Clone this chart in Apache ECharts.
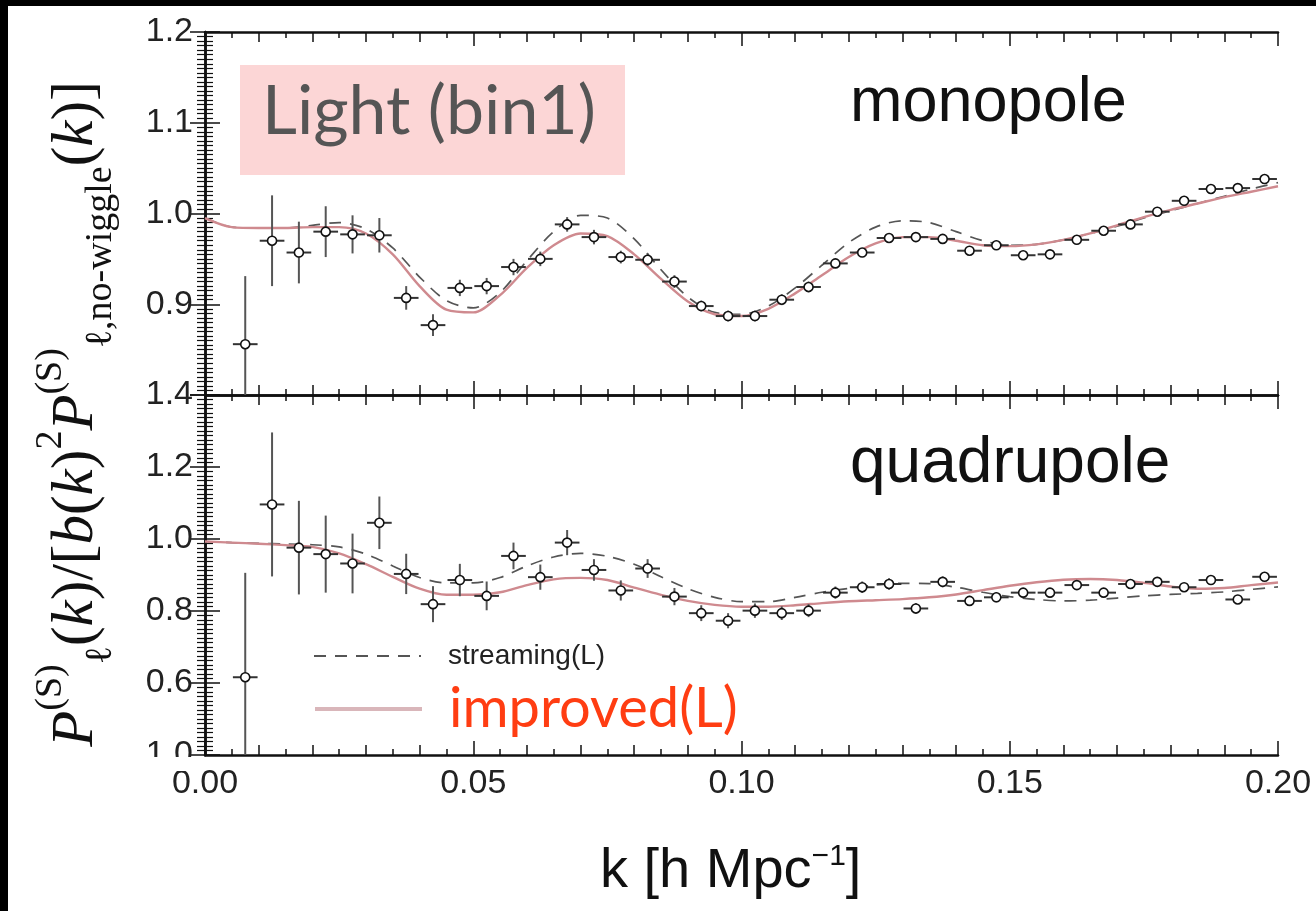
<!DOCTYPE html>
<html>
<head>
<meta charset="utf-8">
<title>Light (bin1)</title>
<script src="https://cdn.jsdelivr.net/npm/echarts@6/dist/echarts.min.js"></script>
<style>
html, body { margin: 0; padding: 0; background: #000; }
#chart { width: 1316px; height: 911px; }
</style>
</head>
<body>
<div id="chart"></div>
<script>
'use strict';

// measured points (k bin centres)
var kPoints = [0.0075, 0.0125, 0.0175, 0.0225, 0.0275, 0.0325, 0.0375, 0.0425, 0.0475, 0.0525,
    0.0575, 0.0625, 0.0675, 0.0725, 0.0775, 0.0825, 0.0875, 0.0925, 0.0975, 0.1025,
    0.1075, 0.1125, 0.1175, 0.1225, 0.1275, 0.1325, 0.1375, 0.1425, 0.1475, 0.1525,
    0.1575, 0.1625, 0.1675, 0.1725, 0.1775, 0.1825, 0.1875, 0.1925, 0.1975];
var monoValues = [0.856, 0.970, 0.957, 0.980, 0.977, 0.976, 0.907, 0.877, 0.918, 0.920,
    0.941, 0.950, 0.988, 0.974, 0.952, 0.949, 0.925, 0.898, 0.887, 0.887,
    0.905, 0.919, 0.945, 0.957, 0.973, 0.974, 0.972, 0.959, 0.965, 0.954,
    0.955, 0.971, 0.981, 0.988, 1.002, 1.014, 1.027, 1.028, 1.038];
var monoErrors = [0.075, 0.050, 0.034, 0.028, 0.021, 0.019, 0.013, 0.012, 0.009, 0.009,
    0.009, 0.008, 0.008, 0.008, 0.007, 0.007, 0.007, 0.006, 0.006, 0.006,
    0.006, 0.006, 0.005, 0.005, 0.005, 0.005, 0.005, 0.005, 0.005, 0.005,
    0.004, 0.004, 0.004, 0.004, 0.004, 0.004, 0.004, 0.004, 0.004];
var quadValues = [0.616, 1.096, 0.976, 0.958, 0.932, 1.045, 0.903, 0.819, 0.886, 0.842,
    0.953, 0.894, 0.990, 0.914, 0.857, 0.918, 0.840, 0.794, 0.773, 0.801,
    0.794, 0.801, 0.851, 0.866, 0.875, 0.807, 0.881, 0.828, 0.838, 0.851,
    0.851, 0.872, 0.851, 0.875, 0.881, 0.866, 0.886, 0.832, 0.895];
var quadErrors = [0.290, 0.200, 0.130, 0.107, 0.083, 0.073, 0.056, 0.050, 0.045, 0.040,
    0.037, 0.035, 0.035, 0.030, 0.028, 0.026, 0.024, 0.022, 0.021, 0.020,
    0.019, 0.018, 0.017, 0.016, 0.016, 0.015, 0.015, 0.014, 0.014, 0.013,
    0.013, 0.013, 0.012, 0.012, 0.012, 0.011, 0.011, 0.011, 0.011];
var binHalfWidth = 0.0023;

// model curves
var kCurve = [0, 0.005, 0.01, 0.015, 0.02, 0.025, 0.03, 0.035, 0.04, 0.045,
    0.05, 0.055, 0.06, 0.065, 0.07, 0.075, 0.08, 0.085, 0.09, 0.095,
    0.1, 0.105, 0.11, 0.115, 0.12, 0.125, 0.13, 0.135, 0.14, 0.145,
    0.15, 0.155, 0.16, 0.165, 0.17, 0.175, 0.18, 0.185, 0.19, 0.195, 0.2];
var monoImproved = [0.995, 0.985, 0.984, 0.984, 0.985, 0.985, 0.978, 0.955, 0.920, 0.894,
    0.891, 0.910, 0.940, 0.965, 0.978, 0.975, 0.955, 0.928, 0.903, 0.889,
    0.887, 0.895, 0.912, 0.932, 0.952, 0.967, 0.974, 0.974, 0.970, 0.965,
    0.964, 0.966, 0.971, 0.978, 0.987, 0.996, 1.004, 1.011, 1.018, 1.024, 1.030];
var monoStreaming = [0.995, 0.985, 0.984, 0.984, 0.987, 0.990, 0.983, 0.962, 0.930, 0.904,
    0.896, 0.913, 0.948, 0.980, 0.998, 0.995, 0.972, 0.938, 0.908, 0.891,
    0.889, 0.898, 0.918, 0.943, 0.968, 0.985, 0.992, 0.990, 0.980, 0.970,
    0.965, 0.966, 0.971, 0.978, 0.986, 0.995, 1.003, 1.011, 1.019, 1.027, 1.034];
var quadImproved = [0.993, 0.990, 0.987, 0.983, 0.978, 0.960, 0.930, 0.895, 0.862, 0.845,
    0.845, 0.852, 0.872, 0.888, 0.892, 0.886, 0.865, 0.845, 0.828, 0.817,
    0.812, 0.812, 0.816, 0.822, 0.827, 0.830, 0.833, 0.838, 0.846, 0.858,
    0.870, 0.880, 0.887, 0.889, 0.886, 0.878, 0.868, 0.862, 0.864, 0.872, 0.879];
var quadStreaming = [0.993, 0.990, 0.988, 0.986, 0.984, 0.978, 0.958, 0.925, 0.893, 0.878,
    0.878, 0.893, 0.925, 0.950, 0.960, 0.952, 0.930, 0.895, 0.862, 0.838,
    0.826, 0.826, 0.838, 0.852, 0.863, 0.872, 0.877, 0.876, 0.866, 0.852,
    0.840, 0.832, 0.828, 0.830, 0.836, 0.842, 0.846, 0.849, 0.853, 0.860, 0.867];

// tick labels
var xTickLabels = ['0.00', '0.05', '0.10', '0.15', '0.20'];
var monoTickLabels = ['', '0.9', '1.0', '1.1', '1.2'];          // 0.8 .. 1.2
var quadTickLabels = ['1.0', '0.6', '0.8', '1.0', '1.2', '1.4']; // 0.4 .. 1.4 (as printed)

var chart = echarts.init(document.getElementById('chart'));

function zip(xs, ys) {
    return xs.map(function (x, i) { return [x, ys[i]]; });
}
function zip3(xs, ys, es) {
    return xs.map(function (x, i) { return [x, ys[i], es[i]]; });
}

var GRID_LEFT = 205, GRID_W = 1073;
var frameColor = '#111';

function xAxis(grid, pos, interval, len, showLabel, showMinor) {
    return {
        type: 'value', gridIndex: grid, position: pos, min: 0, max: 0.2, interval: interval,
        axisLine: {show: showMinor, lineStyle: {color: frameColor, width: 2.5}},
        axisTick: {show: true, inside: true, length: len, lineStyle: {color: frameColor, width: 1.5}},
        minorTick: {show: showMinor, splitNumber: 10, length: 6, lineStyle: {color: frameColor, width: 1.5}},
        splitLine: {show: false},
        axisLabel: {
            show: showLabel, margin: 12, fontSize: 34, color: '#222', fontFamily: 'Liberation Sans',
            formatter: function (v, i) { return xTickLabels[i]; }
        }
    };
}

function yAxis(grid, pos, min, max, interval, minorSplit, labels) {
    return {
        type: 'value', gridIndex: grid, position: pos, min: min, max: max, interval: interval,
        axisLine: {show: true, lineStyle: {color: frameColor, width: 2.5}},
        axisTick: {show: true, inside: true, length: 15, lineStyle: {color: frameColor, width: 1.5}},
        minorTick: {show: true, splitNumber: minorSplit, length: 8, lineStyle: {color: frameColor, width: 1.2}},
        splitLine: {show: false},
        axisLabel: {
            show: !!labels, margin: 12, fontSize: 34, color: '#222', fontFamily: 'Liberation Sans',
            formatter: function (v, i) { return labels ? labels[i] : ''; }
        }
    };
}

function errorBarItem(yMin, yMax) {
    return function (params, api) {
        var k = api.value(0), v = api.value(1), e = api.value(2);
        var a = api.coord([k, Math.max(v - e, yMin)]);
        var b = api.coord([k, Math.min(v + e, yMax)]);
        var l = api.coord([k - binHalfWidth, v]);
        var r = api.coord([k + binHalfWidth, v]);
        return {
            type: 'group',
            children: [
                {type: 'line', shape: {x1: a[0], y1: a[1], x2: b[0], y2: b[1]},
                    style: {stroke: '#555', lineWidth: 2}},
                {type: 'line', shape: {x1: l[0], y1: l[1], x2: r[0], y2: r[1]},
                    style: {stroke: '#333', lineWidth: 2}}
            ]
        };
    };
}

function panelSeries(xi, yi, values, errors, improved, streaming, yMin, yMax) {
    return [
        {
            name: 'streaming(L)', type: 'line', xAxisIndex: xi, yAxisIndex: yi,
            data: zip(kCurve, streaming), symbol: 'none', smooth: 0.3, z: 2,
            itemStyle: {color: '#555'},
            lineStyle: {color: '#555', width: 1.7, type: [12, 9]}
        },
        {
            name: 'improved(L)', type: 'line', xAxisIndex: xi, yAxisIndex: yi,
            data: zip(kCurve, improved), symbol: 'none', smooth: 0.3, z: 3,
            itemStyle: {color: '#cf8a8f'},
            lineStyle: {color: '#cf8a8f', width: 2.4}
        },
        {
            type: 'custom', xAxisIndex: xi, yAxisIndex: yi, z: 4,
            data: zip3(kPoints, values, errors),
            encode: {x: 0, y: 1},
            renderItem: errorBarItem(yMin, yMax)
        },
        {
            type: 'scatter', xAxisIndex: xi, yAxisIndex: yi, z: 5,
            data: zip(kPoints, values), symbol: 'circle', symbolSize: 9,
            itemStyle: {color: '#fff', borderColor: '#111', borderWidth: 1.6, opacity: 1}
        }
    ];
}

var yTitle = '{it|P}{sup|(S)}{sub|ℓ}{n|(}{it|k}{n|)/[}{it|b}{n|(}{it|k}{n|)}{sup|2}' +
    '{it|P}{sup|(S)}{sub|ℓ,no‑wiggle}{n|(}{it|k}{n|)]}';

chart.setOption({
    backgroundColor: '#fff',
    animation: false,
    grid: [
        {left: GRID_LEFT, top: 32, width: GRID_W, height: 363},
        {left: GRID_LEFT, top: 395, width: GRID_W, height: 360}
    ],
    xAxis: [
        xAxis(0, 'bottom', 0.05, 14, false, true),
        xAxis(0, 'top', 0.05, 14, false, true),
        xAxis(1, 'bottom', 0.05, 14, true, true),
        xAxis(1, 'top', 0.05, 14, false, true),
        xAxis(0, 'bottom', 0.01, 10, false, false),
        xAxis(0, 'top', 0.01, 10, false, false),
        xAxis(1, 'bottom', 0.01, 10, false, false),
        xAxis(1, 'top', 0.01, 10, false, false)
    ],
    yAxis: [
        yAxis(0, 'left', 0.8, 1.2, 0.1, 20, monoTickLabels),
        yAxis(0, 'right', 0.8, 1.2, 0.1, 20, null),
        yAxis(1, 'left', 0.4, 1.4, 0.2, 16, quadTickLabels),
        yAxis(1, 'right', 0.4, 1.4, 0.2, 16, null)
    ],
    legend: [
        {
            left: 313, top: 642, padding: 0, itemWidth: 107, itemHeight: 14,
            data: [{name: 'streaming(L)', itemStyle: {opacity: 0}}],
            textStyle: {fontSize: 28, color: '#222', fontFamily: 'Liberation Sans', padding: [0, 0, 0, 22]}
        },
        {
            left: 313, top: 680, padding: 0, itemWidth: 107, itemHeight: 14,
            data: [{name: 'improved(L)', itemStyle: {opacity: 0}, lineStyle: {width: 4, color: '#d9b6ba'}}],
            textStyle: {
                fontSize: 56, color: '#ff3d12', fontFamily: 'Lato',
                backgroundColor: '#fff', padding: [2, 8, 0, 22]
            }
        }
    ],
    graphic: [
        // slide border
        {type: 'rect', left: 0, top: 0, shape: {width: 1316, height: 6}, style: {fill: '#000'}, z: 100},
        {type: 'rect', left: 0, top: 0, shape: {width: 8, height: 911}, style: {fill: '#000'}, z: 100},
        // hides the lower half of the bottom tick label
        {type: 'rect', left: 120, top: 757, shape: {width: 80, height: 14}, style: {fill: '#fff'}, z: 100},
        // panel tag
        {type: 'rect', left: 240, top: 65, shape: {width: 385, height: 110}, style: {fill: '#fcd6d6'}, z: 50},
        {type: 'text', left: 262, top: 78, z: 51,
            style: {text: 'Light (bin1)', font: '68px Lato', fill: '#555'}},
        {type: 'text', left: 850, top: 72, z: 51,
            style: {text: 'monopole', font: '63px "Liberation Sans"', fill: '#111'}},
        {type: 'text', left: 850, top: 432, z: 51,
            style: {text: 'quadrupole', font: '64px "Liberation Sans"', fill: '#111'}},
        {type: 'text', left: 600, top: 842, z: 51,
            style: {
                text: 'k [h Mpc{sup|−1}]', fill: '#111',
                font: '56px "Liberation Sans"',
                rich: {sup: {fontSize: 30, fontFamily: 'Liberation Sans', verticalAlign: 'top', lineHeight: 60, fill: '#111'}}
            }},
        {type: 'text', x: 76, y: 414, rotation: Math.PI / 2, z: 51,
            style: {
                text: yTitle, align: 'center', verticalAlign: 'middle', fill: '#111',
                rich: {
                    it: {fontSize: 59, fontFamily: 'Liberation Serif', fontStyle: 'italic', lineHeight: 88, verticalAlign: 'middle'},
                    n: {fontSize: 59, fontFamily: 'Liberation Serif', lineHeight: 88, verticalAlign: 'middle'},
                    sup: {fontSize: 38, fontFamily: 'Liberation Serif', lineHeight: 42, verticalAlign: 'top'},
                    sub: {fontSize: 38, fontFamily: 'Liberation Serif', lineHeight: 42, verticalAlign: 'bottom'}
                }
            }}
    ],
    series: [].concat(
        panelSeries(0, 0, monoValues, monoErrors, monoImproved, monoStreaming, 0.8, 1.2),
        panelSeries(2, 2, quadValues, quadErrors, quadImproved, quadStreaming, 0.4, 1.4)
    )
});
</script>
</body>
</html>
